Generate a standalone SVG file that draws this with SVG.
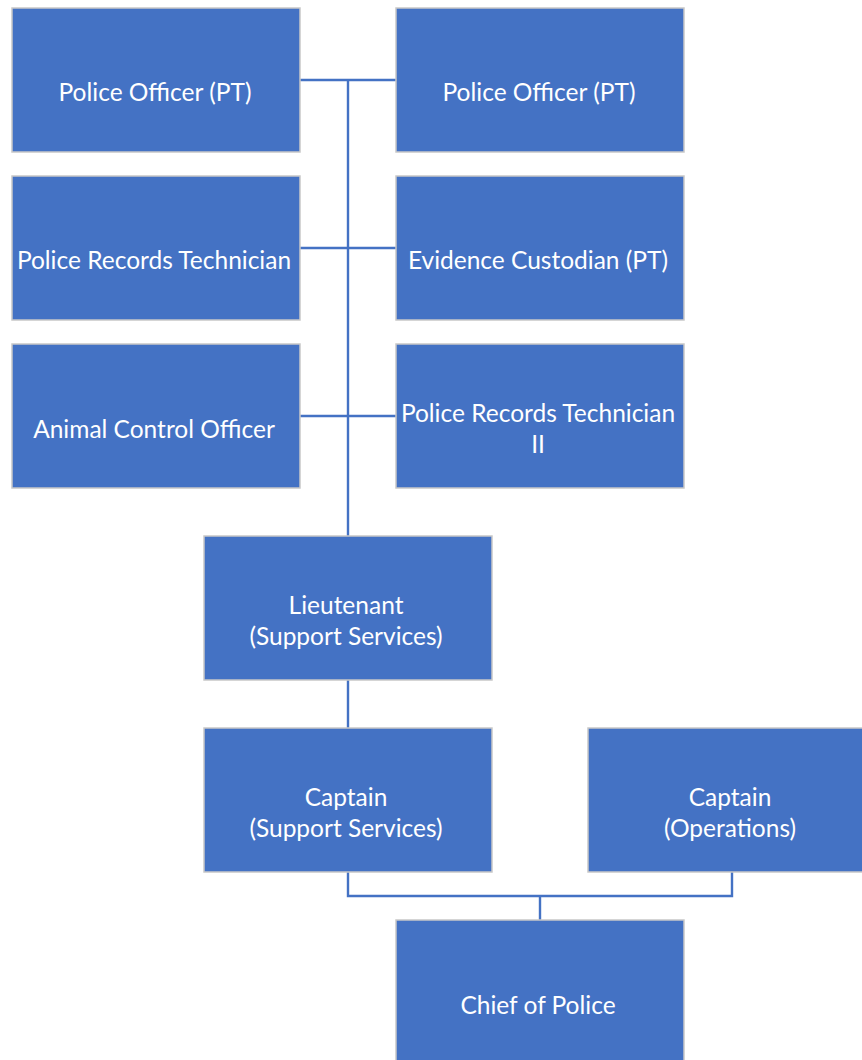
<svg xmlns="http://www.w3.org/2000/svg" width="862" height="1060" viewBox="0 0 862 1060">
<style>
.box{fill:#4472C4;stroke:#C8C8C8;stroke-width:1.5}
.lbl{fill:#FFFFFF;font-family:Lato,"Liberation Sans",sans-serif;font-size:24.5px;text-anchor:middle}
.conn{fill:none;stroke:#4472C4;stroke-width:2.4}
</style>
<rect width="862" height="1060" fill="#FFFFFF"/>
<g id="connectors">
<path class="conn" d="M300 80H396M348 80V536M300 248H396M300 416H396M348 680V728M348 872V896H732V872M540 896V920"/>
</g>
<g id="n1"><rect class="box" x="12" y="8" width="288" height="144"/><text class="lbl" x="155" y="101">Police Officer (PT)</text></g>
<g id="n2"><rect class="box" x="396" y="8" width="288" height="144"/><text class="lbl" x="539" y="101">Police Officer (PT)</text></g>
<g id="n3"><rect class="box" x="12" y="176" width="288" height="144"/><text class="lbl" x="154" y="269">Police Records Technician</text></g>
<g id="n4"><rect class="box" x="396" y="176" width="288" height="144"/><text class="lbl" x="538" y="269">Evidence Custodian (PT)</text></g>
<g id="n5"><rect class="box" x="12" y="344" width="288" height="144"/><text class="lbl" x="154" y="438">Animal Control Officer</text></g>
<g id="n6"><rect class="box" x="396" y="344" width="288" height="144"/><text class="lbl" x="538" y="422">Police Records Technician</text><text class="lbl" x="538" y="453">II</text></g>
<g id="n7"><rect class="box" x="204" y="536" width="288" height="144"/><text class="lbl" x="346" y="614">Lieutenant</text><text class="lbl" x="346" y="645">(Support Services)</text></g>
<g id="n8"><rect class="box" x="204" y="728" width="288" height="144"/><text class="lbl" x="346" y="806">Captain</text><text class="lbl" x="346" y="837">(Support Services)</text></g>
<g id="n9"><rect class="box" x="588" y="728" width="288" height="144"/><text class="lbl" x="730" y="806">Captain</text><text class="lbl" x="730" y="837">(Operations)</text></g>
<g id="n10"><rect class="box" x="396" y="920" width="288" height="144"/><text class="lbl" x="538" y="1014">Chief of Police</text></g>
</svg>
